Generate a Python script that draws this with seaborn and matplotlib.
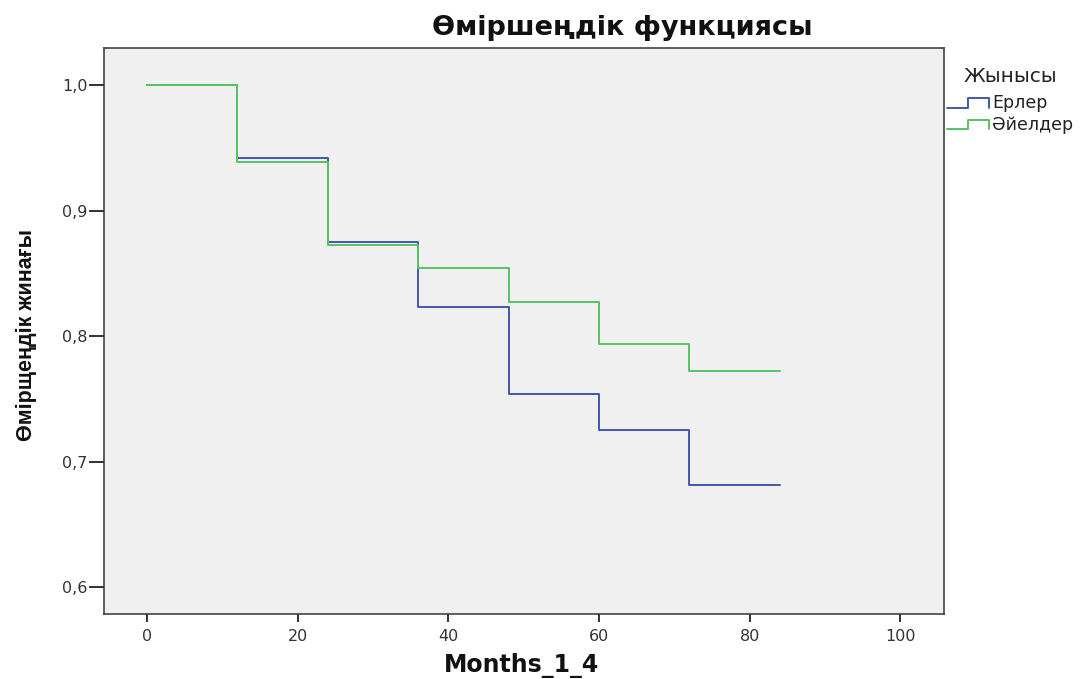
import numpy as np
import pandas as pd
import matplotlib
matplotlib.use("Agg")
import matplotlib.pyplot as plt
import seaborn as sns
from matplotlib.legend_handler import HandlerBase
from matplotlib.lines import Line2D

# ---- data ----
times = [0, 12, 24, 36, 48, 60, 72, 84]
surv_men = [1.0, 0.942, 0.875, 0.823, 0.754, 0.725, 0.681, 0.681]
surv_women = [1.0, 0.939, 0.8725, 0.854, 0.827, 0.794, 0.772, 0.772]
groups = ["Ерлер", "Әйелдер"]
x_ticks = [0, 20, 40, 60, 80, 100]
y_ticks = [0.6, 0.7, 0.8, 0.9, 1.0]
y_tick_labels = ["0,6", "0,7", "0,8", "0,9", "1,0"]

title = "Өміршеңдік функциясы"
x_label = "Months_1_4"
y_label = "Өмірщеңдік жинағы"
legend_title = "Жынысы"

df = pd.DataFrame({
    "time": times * 2,
    "surv": surv_men + surv_women,
    "group": [groups[0]] * len(times) + [groups[1]] * len(times),
})

sns.set_theme(style="white")
plt.rcParams["font.family"] = ["DejaVu Sans"]

fig = plt.figure(figsize=(10.83, 6.79), dpi=100)
ax = fig.add_axes([104 / 1083, 1 - 614 / 679, (944 - 104) / 1083, (614 - 48) / 679])
ax.set_facecolor("#f0f0f0")

palette = {groups[0]: "#4257ad", groups[1]: "#55c463"}
sns.lineplot(data=df, x="time", y="surv", hue="group", palette=palette,
             drawstyle="steps-post", estimator=None, linewidth=1.4, ax=ax,
             legend=False)

ax.set_xlim(-5.7, 105.8)
ax.set_ylim(0.5785, 1.0295)
ax.set_xticks(x_ticks)
ax.set_xticklabels([str(t) for t in x_ticks], fontsize=11.5, color="#333333")
ax.set_yticks(y_ticks)
ax.set_yticklabels(y_tick_labels, fontsize=11.5, color="#333333")
ax.tick_params(axis="x", direction="out", length=6, width=1.3, color="#222222",
               bottom=True, pad=5)
ax.tick_params(axis="y", direction="out", length=11, width=1.3, color="#222222",
               left=True, pad=1)
for s in ax.spines.values():
    s.set_color("#333333")
    s.set_linewidth(1.1)
ax.set_xlabel("")
ax.set_ylabel("")

fig.text(622 / 1083, 1 - 28 / 679, title, ha="center", va="center",
         fontsize=19.5, fontweight="bold", color="#111111")
fig.text(522 / 1083, 1 - 665 / 679, x_label, ha="center", va="center",
         fontsize=17, fontweight="bold", color="#111111")
fig.text(26 / 1083, 1 - 335 / 679, y_label, ha="center", va="center",
         rotation=90, fontsize=15.5, fontweight="bold", color="#111111",
         family=["Liberation Sans", "DejaVu Sans"])


class StepHandler(HandlerBase):
    def create_artists(self, legend, orig_handle, xdescent, ydescent,
                       width, height, fontsize, trans):
        w, h = width, height
        x0 = -xdescent
        y0 = -ydescent
        xs = [x0, x0 + 0.5 * w, x0 + 0.5 * w, x0 + w, x0 + w]
        ys = [y0 + 0.05 * h, y0 + 0.05 * h, y0 + 0.85 * h, y0 + 0.85 * h, y0 + 0.05 * h]
        ln = Line2D(xs, ys, color=orig_handle.get_color(), linewidth=1.4, transform=trans)
        return [ln]


handles = [Line2D([], [], color=palette[g]) for g in groups]
leg = fig.legend(handles, groups, title=legend_title, loc="upper left",
                 bbox_to_anchor=(935 / 1083, 1 - 55 / 679), frameon=False,
                 fontsize=12.5, title_fontsize=14.5, handlelength=2.4,
                 handletextpad=0.2, labelspacing=0.2, borderpad=0.2,
                 handler_map={Line2D: StepHandler()})
leg._legend_box.sep = 6
leg.get_title().set_color("#222222")
for t in leg.get_texts():
    t.set_color("#222222")

fig.savefig("out.png", dpi=100)
